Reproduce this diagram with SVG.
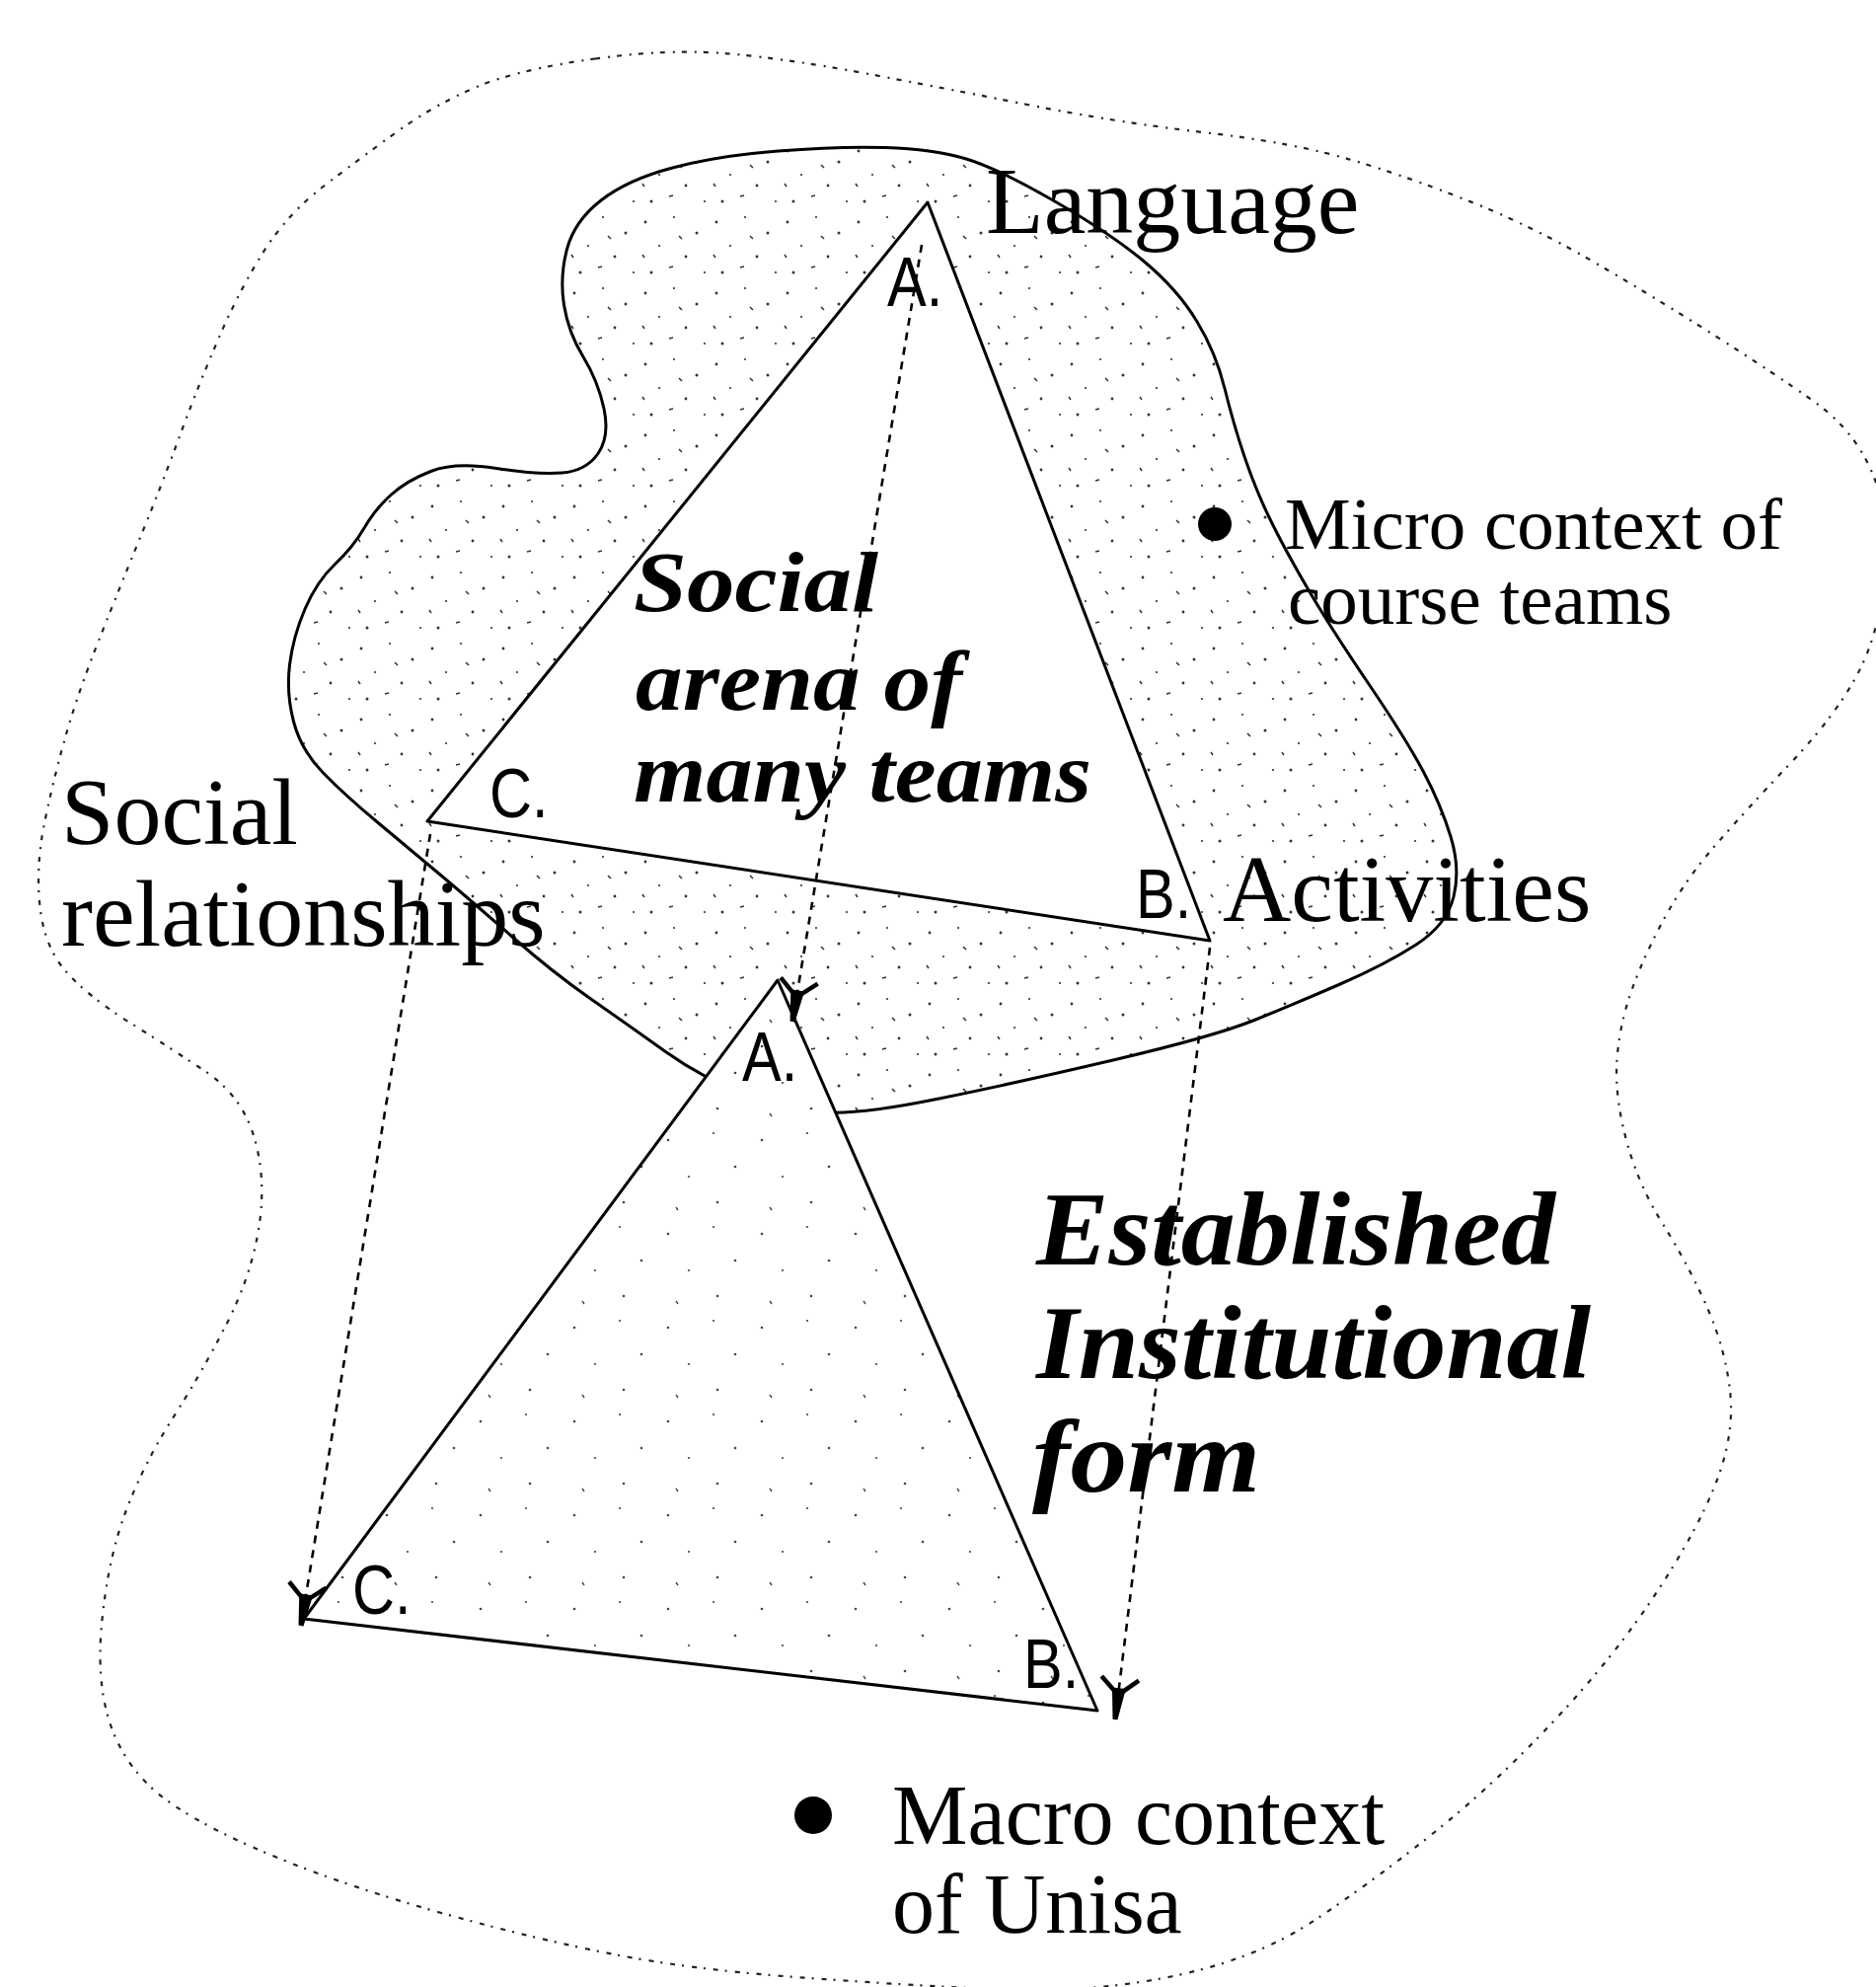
<svg xmlns="http://www.w3.org/2000/svg" width="1901" height="2013" viewBox="0 0 1901 2013">
<style>
.serif{font-family:"Liberation Serif","Times New Roman",serif;fill:#000}
.big{font-size:96px}
.mid{font-size:75px}
.mac{font-size:86px}
.bi{font-weight:bold;font-style:italic;font-size:87px}
.est{font-weight:bold;font-style:italic;font-size:106px}
.lbl{font-family:"Liberation Sans",Arial,sans-serif;font-size:70px;fill:#000}
.solid{fill:none;stroke:#000;stroke-width:3;stroke-linejoin:round;stroke-linecap:round}
.dash{fill:none;stroke:#000;stroke-width:2.6;stroke-dasharray:8 7}
.outer{fill:none;stroke:#222;stroke-width:2.2;stroke-dasharray:5 8 2 7}
</style>
<defs>
<pattern id="stip" width="72" height="72" patternUnits="userSpaceOnUse">
<rect width="72" height="72" fill="#fff"/>
<g fill="#333">
<circle cx="6" cy="9" r="1.4"/><circle cx="35" cy="4" r="1.1"/><circle cx="58" cy="20" r="1.5"/>
<circle cx="20" cy="33" r="1.1"/><circle cx="47" cy="44" r="1.4"/><circle cx="12" cy="60" r="1.5"/>
<circle cx="66" cy="60" r="1.1"/>
</g>
<path d="M40 23l3 3M3 42l2 3M30 55l4-1" stroke="#333" stroke-width="1.5"/>
</pattern>
<pattern id="stip2" width="95" height="95" patternUnits="userSpaceOnUse">
<rect width="95" height="95" fill="#fff"/>
<g fill="#444">
<circle cx="12" cy="15" r="1.3"/><circle cx="58" cy="8" r="1.1"/><circle cx="80" cy="42" r="1.3"/>
<circle cx="33" cy="52" r="1.1"/><circle cx="62" cy="78" r="1.3"/>
</g>
<path d="M20 83l2 3" stroke="#444" stroke-width="1.4"/>
</pattern>
<marker id="ah" markerUnits="userSpaceOnUse" orient="auto" markerWidth="60" markerHeight="60" refX="0" refY="0" viewBox="-50 -30 60 60" overflow="visible">
<path d="M-42,-19 L-25,0 L-42,19" fill="none" stroke="#000" stroke-width="4.5"/>
<path d="M-32,-7 L0,-2.5 L0,2.5 L-32,7 Z" fill="#000"/>
</marker>
</defs>
<rect width="1901" height="2013" fill="#fff"/>

<g id="macro-context">
<path class="outer" d="M603,59.5 Q679,49 739.5,54.5 Q800,60 875,74 Q950,88 1041,106 Q1132,124 1223,134.5 Q1314,145 1374.5,163.5 Q1435,182 1495.5,206.5 Q1556,231 1617,266.5 Q1678,302 1738.5,340.5 Q1799,379 1838.5,407 Q1878,435 1896.5,477.5 Q1915,520 1910,580 Q1905,640 1882.5,682.5 Q1860,725 1814.5,773 Q1769,821 1738.5,856 Q1708,891 1687,929.5 Q1666,968 1653.5,1003 Q1641,1038 1638.5,1074 Q1636,1110 1648,1155 Q1660,1200 1685,1240 Q1710,1280 1729,1322.5 Q1748,1365 1753,1408.5 Q1758,1452 1739.5,1500.5 Q1721,1549 1678.5,1613.5 Q1636,1678 1575.5,1742.5 Q1515,1807 1454.5,1855.5 Q1394,1904 1333.5,1944.5 Q1273,1985 1186.5,2002.5 Q1100,2020 1000,2015 Q900,2010 800,2002.5 Q700,1995 622.5,1980 Q545,1965 454.5,1940 Q364,1915 291,1886 Q218,1857 175.5,1828.5 Q133,1800 115,1755.5 Q97,1711 103,1646 Q109,1581 127,1532.5 Q145,1484 175.5,1436 Q206,1388 230.5,1339.5 Q255,1291 262.5,1242.5 Q270,1194 257.5,1152 Q245,1110 207.5,1085 Q170,1060 130,1035 Q90,1010 67.5,985 Q45,960 40.5,918.5 Q36,877 45.5,831.5 Q55,786 67,744 Q79,702 100,649 Q121,596 142.5,543.5 Q164,491 182,442 Q200,393 221,344 Q242,295 266.5,256 Q291,217 327.5,189 Q364,161 403,133 Q442,105 484.5,87.5 Q527,70 603,59.5 Z"/>
</g>

<g id="micro-context">
<path class="solid" style="fill:url(#stip)" d="M681.5,170 Q727,158 788.5,153 Q850,148 897.5,149.5 Q945,151 977.5,160.5 Q1010,170 1068,203.5 Q1126,237 1159.5,265 Q1193,293 1212.5,325 Q1232,357 1241,393.5 Q1250,430 1261,462.5 Q1272,495 1286,524 Q1300,553 1323.5,593.5 Q1347,634 1386,691.5 Q1425,749 1442.5,782 Q1460,815 1470,847.5 Q1480,880 1473,908.5 Q1466,937 1435,957 Q1404,977 1358,997 Q1312,1017 1271,1033.5 Q1230,1050 1130,1073.5 Q1030,1097 951.5,1113 Q873,1129 836.5,1127 Q800,1125 756.5,1109 Q713,1093 674.5,1065.5 Q636,1038 598,1011.5 Q560,985 519,949 Q478,913 446.5,886.5 Q415,860 382.5,833 Q350,806 327.5,783 Q305,760 297.5,731 Q290,702 293.5,673.5 Q297,645 309,617 Q321,589 339.5,571.5 Q358,554 369,535 Q380,516 396,501.5 Q412,487 436.5,477.5 Q461,468 503,474.5 Q545,481 569.5,479 Q594,477 606,459.5 Q618,442 612,414 Q606,386 591,361.5 Q576,337 571.5,309 Q567,281 574.5,252.5 Q582,224 609,203 Q636,182 681.5,170 Z"/>
</g>

<g id="triangle-top">
<path class="solid" style="fill:#fff" d="M940,205 L1226,953 L433,832 Z"/>
</g>

<g id="triangle-bottom">
<path class="solid" style="fill:url(#stip2)" d="M788,993 L1112,1733 L308,1640 Z"/>
</g>

<g id="connectors">
<path class="dash" d="M934,248 L803,1035" marker-end="url(#ah)"/>
<path class="dash" d="M436,845 L305,1647" marker-end="url(#ah)"/>
<path class="dash" d="M1226,960 L1130,1742" marker-end="url(#ah)"/>
</g>

<g id="vertex-labels">
<text class="lbl" transform="translate(899,310) scale(0.85,1)">A.</text>
<text class="lbl" transform="translate(496,828) scale(0.85,1)">C.</text>
<text class="lbl" transform="translate(1151,930) scale(0.85,1)">B.</text>
<text class="lbl" transform="translate(752,1095) scale(0.85,1)">A.</text>
<text class="lbl" transform="translate(357,1635) scale(0.85,1)">C.</text>
<text class="lbl" transform="translate(1037,1710) scale(0.85,1)">B.</text>
</g>

<g id="label-language"><text class="serif big" x="999" y="236">Language</text></g>
<g id="label-social-relationships">
<text class="serif big" x="62" y="855">Social</text>
<text class="serif big" x="62" y="958">relationships</text>
</g>
<g id="label-activities"><text class="serif big" x="1239" y="933">Activities</text></g>

<g id="label-micro">
<circle cx="1231" cy="531" r="17" fill="#000"/>
<text class="serif mid" x="1302" y="556">Micro context of</text>
<text class="serif mid" x="1305" y="632">course teams</text>
</g>

<g id="label-social-arena">
<text class="serif bi" x="642" y="619" textLength="248" lengthAdjust="spacingAndGlyphs">Social</text>
<text class="serif bi" x="644" y="719" textLength="331" lengthAdjust="spacingAndGlyphs">arena of</text>
<text class="serif bi" x="642" y="812" textLength="464" lengthAdjust="spacingAndGlyphs">many teams</text>
</g>

<g id="label-established">
<text class="serif est" x="1050" y="1281" textLength="526" lengthAdjust="spacingAndGlyphs">Established</text>
<text class="serif est" x="1050" y="1396" textLength="562" lengthAdjust="spacingAndGlyphs">Institutional</text>
<text class="serif est" x="1046" y="1511" textLength="231" lengthAdjust="spacingAndGlyphs">form</text>
</g>

<g id="label-macro">
<circle cx="824" cy="1839" r="19" fill="#000"/>
<text class="serif mac" x="904" y="1868">Macro context</text>
<text class="serif mac" x="904" y="1958">of Unisa</text>
</g>
</svg>
